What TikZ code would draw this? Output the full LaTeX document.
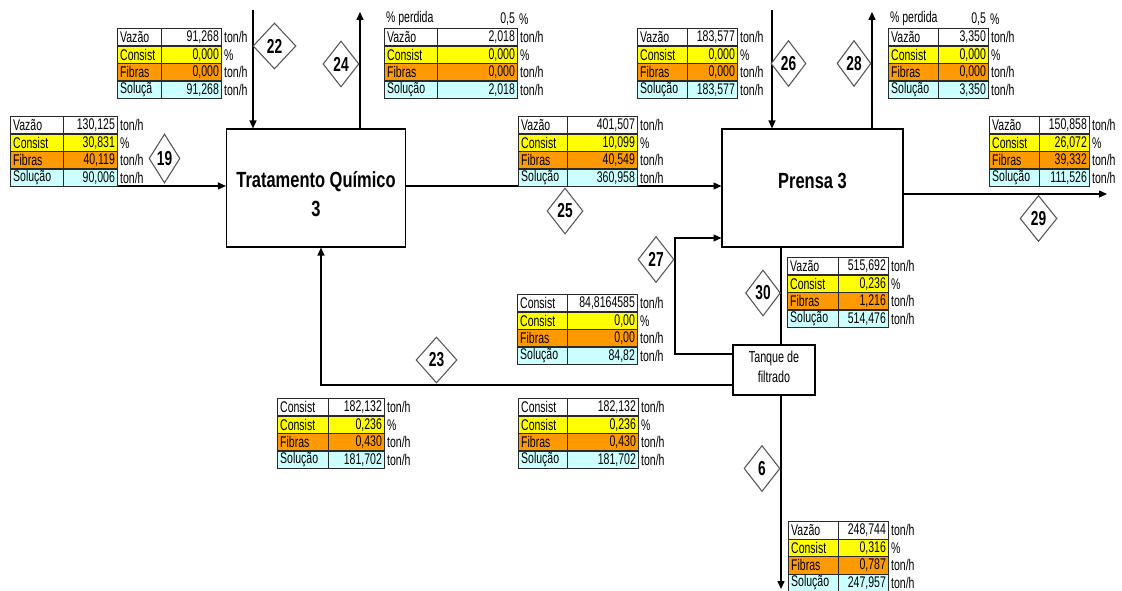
\documentclass[tikz,border=0pt]{standalone}
\usepackage{fontspec}
\setmainfont{Liberation Sans}
\newfontfamily\estreito[FakeStretch=0.75]{Liberation Sans}
\newfontfamily\apertado[FakeStretch=0.68]{Liberation Sans}
\usetikzlibrary{arrows.meta,shapes.geometric}
\definecolor{lin1}{HTML}{FFFFFF}
\definecolor{lin2}{HTML}{FFFF00}
\definecolor{lin3}{HTML}{FF9900}
\definecolor{lin4}{HTML}{CCFFFF}
\definecolor{borda}{HTML}{2A2A2A}
\definecolor{losango}{HTML}{555555}

\tikzset{
  celula/.style={draw=borda,line width=0.6pt,minimum height=0.35cm,inner xsep=1.5pt,inner ysep=0pt,
    font=\apertado\fontsize{8.8}{9}\selectfont,anchor=north west},
  unidade/.style={inner sep=1pt,font=\apertado\fontsize{8.8}{9}\selectfont},
  caixa/.style={draw=black,line width=0.7pt,fill=white},
  titulo/.style={font=\estreito\bfseries\fontsize{12.5}{16.5}\selectfont,align=center},
  tanquetxt/.style={font=\apertado\fontsize{9}{11.3}\selectfont,align=center},
  corrente/.style={shape=diamond,draw=losango,line width=0.6pt,fill=white,minimum height=0.92cm,inner sep=0pt,
    font=\apertado\bfseries\fontsize{11.5}{12}\selectfont},
  fluxo/.style={line width=0.6pt,-{Triangle[length=4.5pt,width=4pt]}},
  linha/.style={line width=0.6pt},
}

% tabela de corrente: nome, x0, x1, x2, ytopo, {rotulo/valor,...}
\newcommand{\tabela}[6]{%
  \pgfmathsetlengthmacro{\wl}{(#3-#2)*0.02cm-3pt}%
  \pgfmathsetlengthmacro{\wv}{(#4-#3)*0.02cm-3pt}%
  \foreach \lab/\val [count=\i] in {#6}{%
    \pgfmathsetmacro{\yy}{#5+(\i-1)*17.5}
    \node[celula,fill=lin\i,text width=\wl,align=left] (#1l\i) at (#2,\yy) {\lab};
    \node[celula,fill=lin\i,text width=\wv,align=right] (#1v\i) at (#3,\yy) {\val};
    \node[unidade,anchor=west] (#1u\i) at (#1v\i.east) {\ifnum\i=2 \%\else ton/h\fi};
  }%
}

\begin{document}
\begin{tikzpicture}[x=0.02cm,y=-0.02cm]
\useasboundingbox (0,0) rectangle (1122,591);

% equipamentos
\node[caixa,minimum width=3.58cm,minimum height=2.36cm] (tq) at (316,188) {};
\node[titulo] (tqt) at (316,194) {Tratamento Químico\\3};
\node[caixa,minimum width=3.62cm,minimum height=2.36cm] (pr) at (812.5,188) {};
\node[titulo] (prt) at (812.5,181) {Prensa 3};
\node[caixa,line width=0.6pt,minimum width=1.64cm,minimum height=1.0cm] (tk) at (774,370) {};
\node[tanquetxt] (tkt) at (774,367) {Tanque de\\filtrado};

% correntes
\coordinate (c22) at (253,10);
\coordinate (c24) at (360,12);
\coordinate (c19) at (10,186);
\coordinate (c26) at (772,10);
\coordinate (c28) at (872,12);
\coordinate (c29) at (1107,194);
\coordinate (k27) at (675,354);
\coordinate (k27b) at (675,238);
\coordinate (c30) at (781,0);
\coordinate (k23) at (321,385);
\coordinate (c6) at (781,589);
\draw[fluxo] (c22) -- (c22 |- tq.north);
\draw[fluxo] (c24 |- tq.north) -- (c24);
\draw[fluxo] (c19) -- (c19 -| tq.west);
\draw[fluxo] (c19 -| tq.east) -- (c19 -| pr.west);
\draw[fluxo] (c26) -- (c26 |- pr.north);
\draw[fluxo] (c28 |- pr.north) -- (c28);
\draw[fluxo] (c29 -| pr.east) -- (c29);
\draw[fluxo] (k27 -| tk.west) -- (k27) -- (k27b) -- (k27b -| pr.west);
\draw[linha] (c30 |- pr.south) -- (c30 |- tk.north);
\draw[fluxo] (k23 -| tk.west) -- (k23) -- (k23 |- tq.south);
\draw[fluxo] (c6 |- tk.south) -- (c6);

% numeros das correntes
\node[corrente,minimum width=0.86cm] (s22) at (274.5,46) {22};
\node[corrente,minimum width=0.72cm] (s24) at (341,64) {24};
\node[corrente,minimum width=0.62cm,minimum height=0.98cm] (s19) at (164.5,158.5) {19};
\node[corrente,minimum width=0.70cm] (s26) at (788.5,63.5) {26};
\node[corrente,minimum width=0.68cm] (s28) at (854,63.5) {28};
\node[corrente,minimum width=0.72cm] (s25) at (565,211) {25};
\node[corrente,minimum width=0.72cm] (s27) at (656,259.5) {27};
\node[corrente,minimum width=0.70cm] (s30) at (763,293) {30};
\node[corrente,minimum width=0.82cm] (s23) at (436.5,360) {23};
\node[corrente,minimum width=0.74cm] (s29) at (1038.5,218.5) {29};
\node[corrente,minimum width=0.72cm] (s6) at (762,468.5) {6};

% tabelas
\tabela{t22}{117}{161}{221}{28}{Vazão/{91,268},Consist/{0,000},Fibras/{0,000},Soluçã/{91,268}}
\tabela{t19}{10}{63}{117}{116}{Vazão/{130,125},Consist/{30,831},Fibras/{40,119},Solução/{90,006}}
\tabela{t24}{384}{437}{517}{28}{Vazão/{2,018},Consist/{0,000},Fibras/{0,000},Solução/{2,018}}
\node[unidade,anchor=west] (t24p) at (384,19) {\% perdida};
\node[unidade,anchor=east] (t24q) at (517,19) {0,5};
\node[unidade,anchor=west] (t24r) at (t24q.east) {\%};
\tabela{t26}{637}{687}{737}{28}{Vazão/{183,577},Consist/{0,000},Fibras/{0,000},Solução/{183,577}}
\tabela{t28}{888}{938}{988}{28}{Vazão/{3,350},Consist/{0,000},Fibras/{0,000},Solução/{3,350}}
\node[unidade,anchor=west] (t28p) at (888,19) {\% perdida};
\node[unidade,anchor=east] (t28q) at (988,19) {0,5};
\node[unidade,anchor=west] (t28r) at (t28q.east) {\%};
\tabela{t25}{518}{567}{637}{116}{Vazão/{401,507},Consist/{10,099},Fibras/{40,549},Solução/{360,958}}
\tabela{t29}{989}{1039}{1089}{116}{Vazão/{150,858},Consist/{26,072},Fibras/{39,332},Solução/{111,526}}
\tabela{t30}{787}{838}{888}{257}{Vazão/{515,692},Consist/{0,236},Fibras/{1,216},Solução/{514,476}}
\tabela{t27}{517}{567}{637}{294}{Consist/{84,8164585},Consist/{0,00},Fibras/{0,00},Solução/{84,82}}
\tabela{t23a}{277}{328}{384}{398}{Consist/{182,132},Consist/{0,236},Fibras/{0,430},Solução/{181,702}}
\tabela{t23b}{518}{567}{638}{398}{Consist/{182,132},Consist/{0,236},Fibras/{0,430},Solução/{181,702}}
\tabela{t6}{788}{838}{888}{521}{Vazão/{248,744},Consist/{0,316},Fibras/{0,787},Solução/{247,957}}
\end{tikzpicture}
\end{document}
